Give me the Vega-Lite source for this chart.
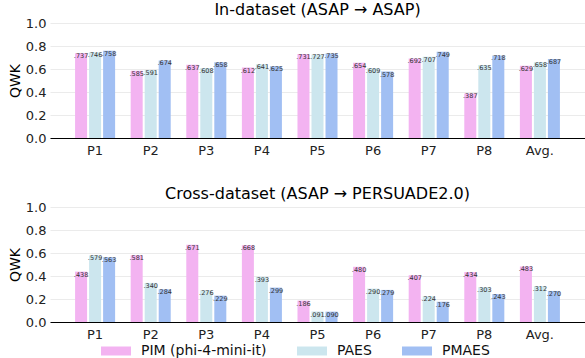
{
  "$schema": "https://vega.github.io/schema/vega-lite/v6.json",
  "padding": {"left": 8, "top": 2, "right": 0, "bottom": 0},
  "background": "white",
  "config": {
    "font": "DejaVu Sans",
    "view": {"stroke": null},
    "title": {"fontSize": 16, "fontWeight": "normal", "color": "#000000", "offset": 1, "frame": "group", "dy": 2},
    "axis": {"labelFontSize": 13, "labelColor": "#222222", "titleFontSize": 14, "titleFontWeight": "normal", "titleColor": "#000000", "ticks": false},
    "legend": {"labelFontSize": 14, "labelColor": "#111111"}
  },
  "data": {"values": [
    {"panel": "in", "prompt": "P1", "model": "PIM (phi-4-mini-it)", "qwk": 0.737},
    {"panel": "in", "prompt": "P1", "model": "PAES", "qwk": 0.746},
    {"panel": "in", "prompt": "P1", "model": "PMAES", "qwk": 0.758},
    {"panel": "in", "prompt": "P2", "model": "PIM (phi-4-mini-it)", "qwk": 0.585},
    {"panel": "in", "prompt": "P2", "model": "PAES", "qwk": 0.591},
    {"panel": "in", "prompt": "P2", "model": "PMAES", "qwk": 0.674},
    {"panel": "in", "prompt": "P3", "model": "PIM (phi-4-mini-it)", "qwk": 0.637},
    {"panel": "in", "prompt": "P3", "model": "PAES", "qwk": 0.608},
    {"panel": "in", "prompt": "P3", "model": "PMAES", "qwk": 0.658},
    {"panel": "in", "prompt": "P4", "model": "PIM (phi-4-mini-it)", "qwk": 0.612},
    {"panel": "in", "prompt": "P4", "model": "PAES", "qwk": 0.641},
    {"panel": "in", "prompt": "P4", "model": "PMAES", "qwk": 0.625},
    {"panel": "in", "prompt": "P5", "model": "PIM (phi-4-mini-it)", "qwk": 0.731},
    {"panel": "in", "prompt": "P5", "model": "PAES", "qwk": 0.727},
    {"panel": "in", "prompt": "P5", "model": "PMAES", "qwk": 0.735},
    {"panel": "in", "prompt": "P6", "model": "PIM (phi-4-mini-it)", "qwk": 0.654},
    {"panel": "in", "prompt": "P6", "model": "PAES", "qwk": 0.609},
    {"panel": "in", "prompt": "P6", "model": "PMAES", "qwk": 0.578},
    {"panel": "in", "prompt": "P7", "model": "PIM (phi-4-mini-it)", "qwk": 0.692},
    {"panel": "in", "prompt": "P7", "model": "PAES", "qwk": 0.707},
    {"panel": "in", "prompt": "P7", "model": "PMAES", "qwk": 0.749},
    {"panel": "in", "prompt": "P8", "model": "PIM (phi-4-mini-it)", "qwk": 0.387},
    {"panel": "in", "prompt": "P8", "model": "PAES", "qwk": 0.635},
    {"panel": "in", "prompt": "P8", "model": "PMAES", "qwk": 0.718},
    {"panel": "in", "prompt": "Avg.", "model": "PIM (phi-4-mini-it)", "qwk": 0.629},
    {"panel": "in", "prompt": "Avg.", "model": "PAES", "qwk": 0.658},
    {"panel": "in", "prompt": "Avg.", "model": "PMAES", "qwk": 0.687},
    {"panel": "cross", "prompt": "P1", "model": "PIM (phi-4-mini-it)", "qwk": 0.438},
    {"panel": "cross", "prompt": "P1", "model": "PAES", "qwk": 0.579},
    {"panel": "cross", "prompt": "P1", "model": "PMAES", "qwk": 0.563},
    {"panel": "cross", "prompt": "P2", "model": "PIM (phi-4-mini-it)", "qwk": 0.581},
    {"panel": "cross", "prompt": "P2", "model": "PAES", "qwk": 0.340},
    {"panel": "cross", "prompt": "P2", "model": "PMAES", "qwk": 0.284},
    {"panel": "cross", "prompt": "P3", "model": "PIM (phi-4-mini-it)", "qwk": 0.671},
    {"panel": "cross", "prompt": "P3", "model": "PAES", "qwk": 0.276},
    {"panel": "cross", "prompt": "P3", "model": "PMAES", "qwk": 0.229},
    {"panel": "cross", "prompt": "P4", "model": "PIM (phi-4-mini-it)", "qwk": 0.668},
    {"panel": "cross", "prompt": "P4", "model": "PAES", "qwk": 0.393},
    {"panel": "cross", "prompt": "P4", "model": "PMAES", "qwk": 0.299},
    {"panel": "cross", "prompt": "P5", "model": "PIM (phi-4-mini-it)", "qwk": 0.186},
    {"panel": "cross", "prompt": "P5", "model": "PAES", "qwk": 0.091},
    {"panel": "cross", "prompt": "P5", "model": "PMAES", "qwk": 0.090},
    {"panel": "cross", "prompt": "P6", "model": "PIM (phi-4-mini-it)", "qwk": 0.480},
    {"panel": "cross", "prompt": "P6", "model": "PAES", "qwk": 0.290},
    {"panel": "cross", "prompt": "P6", "model": "PMAES", "qwk": 0.279},
    {"panel": "cross", "prompt": "P7", "model": "PIM (phi-4-mini-it)", "qwk": 0.407},
    {"panel": "cross", "prompt": "P7", "model": "PAES", "qwk": 0.224},
    {"panel": "cross", "prompt": "P7", "model": "PMAES", "qwk": 0.176},
    {"panel": "cross", "prompt": "P8", "model": "PIM (phi-4-mini-it)", "qwk": 0.434},
    {"panel": "cross", "prompt": "P8", "model": "PAES", "qwk": 0.303},
    {"panel": "cross", "prompt": "P8", "model": "PMAES", "qwk": 0.243},
    {"panel": "cross", "prompt": "Avg.", "model": "PIM (phi-4-mini-it)", "qwk": 0.483},
    {"panel": "cross", "prompt": "Avg.", "model": "PAES", "qwk": 0.312},
    {"panel": "cross", "prompt": "Avg.", "model": "PMAES", "qwk": 0.270}
  ]},
  "transform": [{"calculate": "slice(format(datum.qwk, '.3f'), 1)", "as": "label"}],
  "spacing": 29,
  "vconcat": [
    {
      "title": "In-dataset (ASAP → ASAP)",
      "width": 535,
      "height": 115,
      "transform": [{"filter": "datum.panel === 'in'"}],
      "encoding": {
        "x": {"field": "prompt", "type": "nominal", "sort": ["P1","P2","P3","P4","P5","P6","P7","P8","Avg."], "scale": {"paddingInner": 0.28, "paddingOuter": 0.451}, "axis": {"title": null, "labelAngle": 0, "labelPadding": 6, "domainColor": "#000000", "domainWidth": 1.2, "grid": false}},
        "xOffset": {"field": "model", "type": "nominal", "sort": ["PIM (phi-4-mini-it)", "PAES", "PMAES"], "scale": {"paddingInner": 0.143, "paddingOuter": 0}},
        "y": {"field": "qwk", "type": "quantitative", "scale": {"domain": [0, 1]}, "axis": {"title": "QWK", "values": [0, 0.2, 0.4, 0.6, 0.8, 1.0], "format": ".1f", "domain": false, "gridColor": "#ebebeb", "gridWidth": 1, "labelPadding": 4, "titlePadding": 3}}
      },
      "layer": [
        {"mark": {"type": "bar"}, "encoding": {"color": {"field": "model", "type": "nominal", "sort": ["PIM (phi-4-mini-it)", "PAES", "PMAES"], "scale": {"domain": ["PIM (phi-4-mini-it)", "PAES", "PMAES"], "range": ["#f3b3f1", "#cce6ee", "#a1bff3"]}, "legend": {"title": null, "orient": "none", "legendX": 51, "legendY": 313, "direction": "horizontal", "symbolType": "M-1,-0.3L1,-0.3L1,0.3L-1,0.3Z", "symbolSize": 900, "symbolStrokeWidth": 0, "symbolOpacity": 1, "labelOffset": 10, "columnPadding": 30}}}},
        {"mark": {"type": "text", "baseline": "top", "fontSize": 6.5, "color": "#333333"}, "encoding": {"text": {"field": "label"}}}
      ]
    },
    {
      "title": "Cross-dataset (ASAP → PERSUADE2.0)",
      "width": 535,
      "height": 115,
      "transform": [{"filter": "datum.panel === 'cross'"}],
      "encoding": {
        "x": {"field": "prompt", "type": "nominal", "sort": ["P1","P2","P3","P4","P5","P6","P7","P8","Avg."], "scale": {"paddingInner": 0.28, "paddingOuter": 0.451}, "axis": {"title": null, "labelAngle": 0, "labelPadding": 6, "domainColor": "#000000", "domainWidth": 1.2, "grid": false}},
        "xOffset": {"field": "model", "type": "nominal", "sort": ["PIM (phi-4-mini-it)", "PAES", "PMAES"], "scale": {"paddingInner": 0.143, "paddingOuter": 0}},
        "y": {"field": "qwk", "type": "quantitative", "scale": {"domain": [0, 1]}, "axis": {"title": "QWK", "values": [0, 0.2, 0.4, 0.6, 0.8, 1.0], "format": ".1f", "domain": false, "gridColor": "#ebebeb", "gridWidth": 1, "labelPadding": 4, "titlePadding": 3}}
      },
      "layer": [
        {"mark": {"type": "bar"}, "encoding": {"color": {"field": "model", "type": "nominal", "sort": ["PIM (phi-4-mini-it)", "PAES", "PMAES"], "scale": {"domain": ["PIM (phi-4-mini-it)", "PAES", "PMAES"], "range": ["#f3b3f1", "#cce6ee", "#a1bff3"]}}}},
        {"mark": {"type": "text", "baseline": "top", "fontSize": 6.5, "color": "#333333"}, "encoding": {"text": {"field": "label"}}}
      ]
    }
  ]
}
